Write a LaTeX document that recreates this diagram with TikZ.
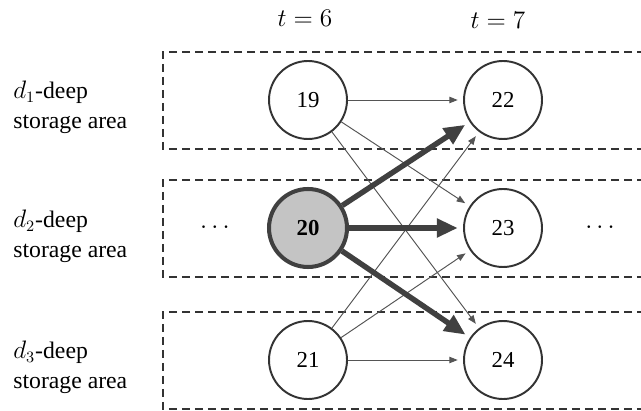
\documentclass[tikz,border=0pt]{standalone}
\usepackage{fontspec}
\setmainfont{Liberation Serif}
\usetikzlibrary{arrows.meta}
\definecolor{edgegray}{HTML}{555555}
\definecolor{heavygray}{HTML}{404040}
\definecolor{nodefill}{HTML}{C4C4C4}
\tikzset{
  state/.style={circle, draw=black!80, line width=1.1pt, fill=white,
    minimum size=1.56cm, inner sep=0pt, font=\fontsize{13}{15}\selectfont},
  hotstate/.style={state, draw=heavygray, line width=2.3pt, fill=nodefill,
    font=\fontsize{13}{15}\selectfont\bfseries},
  area/.style={dash pattern=on 0.16cm off 0.1cm, line width=0.85pt, draw=black!80},
  move/.style={draw=edgegray, line width=0.55pt, shorten >=3pt,
    -{Triangle[length=0.17cm,width=0.13cm]}},
  bigmove/.style={draw=heavygray, line width=3.1pt, shorten >=3pt,
    -{Triangle[length=0.42cm,width=0.36cm]}},
  arealabel/.style={align=left, anchor=west, inner sep=0pt,
    font=\fontsize{13.5}{17}\selectfont},
  timelabel/.style={font=\fontsize{14}{16}\selectfont}
}

\begin{document}
\begin{tikzpicture}[x=0.02cm, y=-0.02cm]
\useasboundingbox (0,0) rectangle (641,411);
\draw[area] (645,52) -| (163,149) -- (645,149);
\draw[area] (645,180) -| (163,277) -- (645,277);
\draw[area] (645,312) -| (163,409) -- (645,409);

\node[arealabel] (a1) at (13,107) {$d_1$-deep\\storage area};
\node[arealabel] (a2) at (13,236) {$d_2$-deep\\storage area};
\node[arealabel] (a3) at (13,367) {$d_3$-deep\\storage area};

\node[timelabel] (t6) at (305,18) {$t = 6$};
\node[timelabel] (t7) at (498,20) {$t = 7$};

\node[state] (n19) at (308,100) {19};
\node[hotstate] (n20) at (308,228) {20};
\node[state] (n21) at (308,360) {21};
\node[state] (n22) at (503,100) {22};
\node[state] (n23) at (503,228) {23};
\node[state] (n24) at (503,360) {24};

\node[timelabel] (ldots) at (215,228) {$\cdots$};
\node[timelabel] (rdots) at (600,228) {$\cdots$};

\draw[move] (n19) -- (n22);
\draw[move] (n19) -- (n23);
\draw[move] (n19) -- (n24);
\draw[move] (n21) -- (n22);
\draw[move] (n21) -- (n23);
\draw[move] (n21) -- (n24);
\draw[bigmove] (n20) -- (n22);
\draw[bigmove] (n20) -- (n23);
\draw[bigmove] (n20) -- (n24);
\end{tikzpicture}
\end{document}
